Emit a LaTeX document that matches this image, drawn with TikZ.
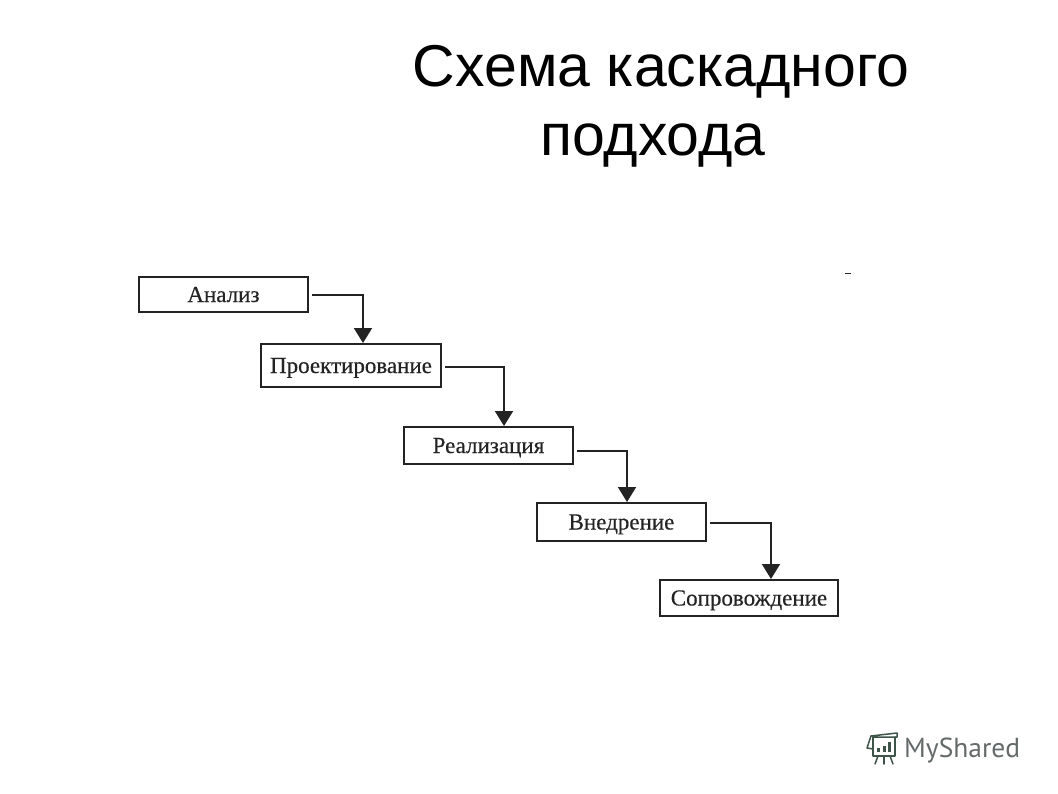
\documentclass[tikz,border=0pt]{standalone}
\usepackage{fontspec}
\setmainfont[FakeBold=0.4]{Liberation Serif}
\newfontfamily\titlefont{Liberation Sans}
\newfontfamily\logofont{PT Sans}
\usepackage{tikz}
\usetikzlibrary{arrows.meta}
\definecolor{inchiostro}{RGB}{35,35,35}
\definecolor{logoverde}{RGB}{62,84,72}
\definecolor{logogrigio}{RGB}{100,106,106}
\tikzset{
  stage/.style={rectangle, draw=inchiostro, line width=2pt, text=inchiostro, inner sep=0pt,
    text height=15pt, text depth=0pt, font={\fontsize{23}{26}\selectfont}},
  flow/.style={draw=inchiostro, line width=2pt, shorten <=3pt, -{Triangle[length=15pt,width=18pt]}},
  slide title/.style={align=center, font={\titlefont\fontsize{59}{69}\selectfont}},
  logo line/.style={draw=logoverde, line width=1.5pt, line cap=round, line join=round},
}
\begin{document}
\begin{tikzpicture}[x=1pt,y=-1pt]
    \useasboundingbox (0,0) rectangle (1058,793);

    \node[slide title] (title) at (661,106) {Схема каскадного\\подхода\hspace*{16pt}};

    \node[stage, minimum width=169pt, minimum height=35pt] (analiz) at (223.5,294.5) {Анализ};
    \node[stage, minimum width=180pt, minimum height=43pt] (proekt) at (351,365.5) {Проектирование};
    \node[stage, minimum width=169pt, minimum height=37pt] (realiz) at (488.5,445.5) {Реализация};
    \node[stage, minimum width=169pt, minimum height=38pt] (vnedr) at (621.5,522) {Внедрение};
    \node[stage, minimum width=178pt, minimum height=36pt] (soprov) at (749,598) {Сопровождение};

    \draw[flow] (analiz.east) -| ([xshift=12pt]proekt.north);
    \draw[flow] ([yshift=-1.5pt]proekt.east) -| ([xshift=15.5pt]realiz.north);
    \draw[flow] ([yshift=-5.5pt]realiz.east) -| ([xshift=5.5pt]vnedr.north);
    \draw[flow] ([yshift=-1pt]vnedr.east) -| ([xshift=22pt]soprov.north);

    % stray mark in the scan
    \draw[inchiostro, line width=1.6pt] (845,273.5) -- (851,273.5);

    % logo
    \draw[logo line] (871,736) -- (897,733) -- (897,737) -- (873,737);
    \draw[logo line] (871,736) -- (867,748) -- (873,749);
    \draw[logo line] (873,737) -- (873,756) -- (895,756) -- (895,737);
    \draw[logo line] (878,756) -- (875,764);
    \draw[logo line] (884,756) -- (884,764);
    \draw[logo line] (890,756) -- (893,764);
    \fill[logoverde] (877,748) rectangle (880,752);
    \fill[logoverde] (883,746) rectangle (886,752);
    \fill[logoverde] (888,742) rectangle (891,752);
    \node[anchor=base west, inner sep=0pt, text=logogrigio, font={\logofont\fontsize{27.5}{32}\selectfont}] (logo) at (904,757) {MyShared};
\end{tikzpicture}
\end{document}
